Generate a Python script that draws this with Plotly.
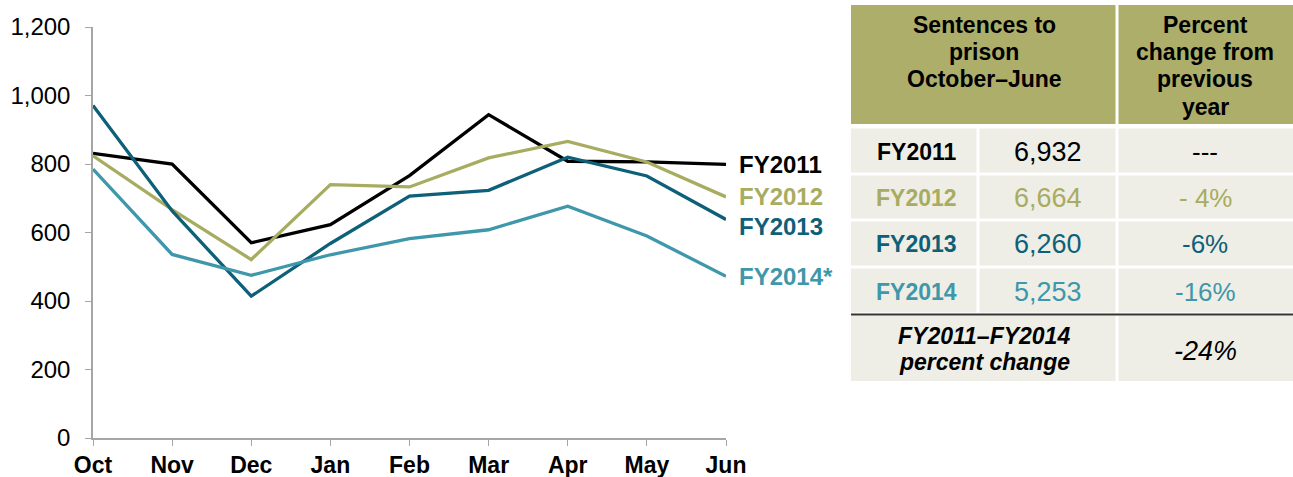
import plotly.graph_objects as go

months = ["Oct", "Nov", "Dec", "Jan", "Feb", "Mar", "Apr", "May", "Jun"]
fy2011 = [831, 800, 570, 623, 766, 944, 808, 806, 799]
fy2012 = [824, 667, 521, 740, 733, 818, 866, 806, 704]
fy2013 = [971, 663, 414, 568, 706, 723, 820, 765, 638]
fy2014 = [785, 536, 475, 535, 582, 608, 677, 590, 472]

series_names = ["FY2011", "FY2012", "FY2013", "FY2014*"]
series_colors = ["#000000", "#A8AC60", "#0D6078", "#3E97AA"]
label_y = [164, 196, 227, 276]  # pixel y of end labels

y_ticks = [0, 200, 400, 600, 800, 1000, 1200]
y_ticktext = ["0", "200", "400", "600", "800", "1,000", "1,200"]

table_rows = ["FY2011", "FY2012", "FY2013", "FY2014"]
table_counts = ["6,932", "6,664", "6,260", "5,253"]
table_pct = ["---", "- 4%", "-6%", "-16%"]
table_colors = ["#000000", "#A8AC60", "#0D6078", "#3E97AA"]
header1 = ["Sentences to", "prison", "October\u2013June"]
header2 = ["Percent", "change from", "previous", "year"]
total_label = ["FY2011\u2013FY2014", "percent change"]
total_value = "-24%"

W, H = 1293, 477
FONT = "Liberation Sans, Arial, Helvetica, sans-serif"

fig = go.Figure()
x_idx = list(range(len(months)))
for name, vals, col in zip(series_names, [fy2011, fy2012, fy2013, fy2014], series_colors):
    fig.add_trace(go.Scatter(x=x_idx, y=vals, mode="lines", name=name,
                             line=dict(color=col, width=3.3), showlegend=False,
                             hoverinfo="x+y"))

L, R = 93, 726
T, B = 27, 438
fig.update_layout(
    width=W, height=H,
    margin=dict(l=L, r=W - R, t=T, b=H - B, pad=0, autoexpand=False),
    paper_bgcolor="white", plot_bgcolor="white",
    font=dict(family=FONT, color="#000000"),
    xaxis=dict(range=[0, 8], tickvals=x_idx, ticktext=["<b>%s</b>" % m for m in months],
               showgrid=False, zeroline=False, showline=True, linecolor="#A6A6A6",
               linewidth=1.5, ticks="outside", ticklen=6, tickcolor="#A6A6A6",
               automargin=False, ticklabelstandoff=0,
               tickfont=dict(size=23, family=FONT, color="#000000")),
    yaxis=dict(range=[0, 1200], tickvals=y_ticks, ticktext=y_ticktext,
               showgrid=False, zeroline=False, showline=True, linecolor="#A6A6A6",
               linewidth=1.5, ticks="outside", ticklen=6, tickcolor="#A6A6A6",
               automargin=False, ticklabelstandoff=10,
               tickfont=dict(size=24, family=FONT, color="#000000")),
)

def px(x):
    return (x - L) / (R - L)

def py(y):
    return (B - y) / (B - T)

annotations = []
shapes = []

def text(x, y, s, size, col, xanchor="center"):
    annotations.append(dict(x=px(x), y=py(y), xref="paper", yref="paper",
                            text=s, showarrow=False, xanchor=xanchor, yanchor="middle",
                            align="center", font=dict(size=size, color=col, family=FONT)))

# end labels
for name, col, ly in zip(series_names, series_colors, label_y):
    text(737, ly, "<b>%s</b>" % name, 24, col, xanchor="left")

# table geometry
c0, c1, c2, c3 = 851, 978, 1117, 1293
hdr_top, hdr_bot = 5, 124
row_edges = [127, 174, 220, 267, 314]
tot_top, tot_bot = 316, 381
HDR_COL = "#ACAE6A"
CELL_COL = "#EFEEE6"
GAP = 1.5
line_ys = [25, 52, 79, 107]

def rect(x0, y0, x1, y1, col):
    shapes.append(dict(type="rect", xref="paper", yref="paper",
                       x0=px(x0), x1=px(x1), y0=py(y1), y1=py(y0),
                       fillcolor=col, line=dict(width=0), layer="below"))

rect(c0, hdr_top, c2 - GAP, hdr_bot, HDR_COL)
rect(c2 + GAP, hdr_top, c3, hdr_bot, HDR_COL)
for s, ly in zip(header1, line_ys):
    text((c0 + c2) / 2, ly, "<b>%s</b>" % s, 23, "#000000")
for s, ly in zip(header2, line_ys):
    text((c2 + c3) / 2, ly, "<b>%s</b>" % s, 23, "#000000")

for i, (lab, cnt, pct, col) in enumerate(zip(table_rows, table_counts, table_pct, table_colors)):
    y0 = row_edges[i] + GAP
    y1 = row_edges[i + 1] - GAP
    rect(c0, y0, c1 - GAP, y1, CELL_COL)
    rect(c1 + GAP, y0, c2 - GAP, y1, CELL_COL)
    rect(c2 + GAP, y0, c3, y1, CELL_COL)
    ym = (y0 + y1) / 2 + 1
    text((c0 + c1) / 2 + 2, ym, "<b>%s</b>" % lab, 23, col)
    text((c1 + c2) / 2, ym, cnt, 27, col)
    text((c2 + c3) / 2, ym, pct, 26, col)

rect(c0, tot_top, c2 - GAP, tot_bot, CELL_COL)
rect(c2 + GAP, tot_top, c3, tot_bot, CELL_COL)
shapes.append(dict(type="line", xref="paper", yref="paper", x0=px(c0), x1=px(c3),
                   y0=py(314.5), y1=py(314.5), line=dict(color="#333333", width=2)))
for s, ly in zip(total_label, [336, 362]):
    text((c0 + c2) / 2, ly, "<b><i>%s</i></b>" % s, 23, "#000000")
text((c2 + c3) / 2, 351, "<i>%s</i>" % total_value, 27, "#000000")

fig.update_layout(annotations=annotations, shapes=shapes)
fig.write_html("out.html", config={"displayModeBar": False},
               post_script="document.body.style.margin='0px';")
